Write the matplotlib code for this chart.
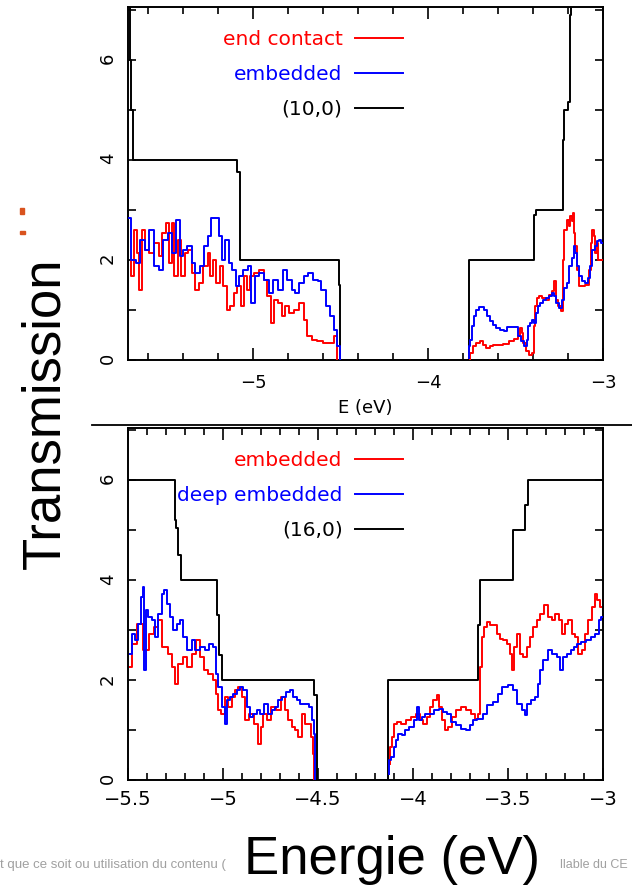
import matplotlib.pyplot as plt
from matplotlib.ticker import MultipleLocator, FuncFormatter
from matplotlib.lines import Line2D
from matplotlib.patches import Rectangle

GAP = float("nan")  # pas de courbe dans le gap

# --- panneau du haut : (10,0) ---
top_tube_x = [-5.72, -5.703, -5.695, -5.685, -5.09, -5.075, -4.51, -4.503, -3.766,
              -3.395, -3.385, -3.23, -3.225, -3.20, -3.19, -3.18, -2.99]
top_tube_y = [7.5, 6.0, 5.0, 4.0, 3.75, 2.0, 1.5, 0.0, 2.0,
              2.9, 3.0, 4.4, 5.0, 5.15, 6.9, 7.5, 7.5]

top_end_x = [-5.70, -5.69, -5.67, -5.66, -5.64, -5.63, -5.61, -5.58, -5.55, -5.53,
             -5.51, -5.49, -5.47, -5.46, -5.44, -5.42, -5.40, -5.38, -5.36, -5.34,
             -5.32, -5.30, -5.27, -5.25, -5.24, -5.22, -5.20, -5.18, -5.16, -5.14,
             -5.12, -5.10, -5.08, -5.06, -5.04, -5.03, -5.01, -4.98, -4.95, -4.93,
             -4.91, -4.89, -4.87, -4.84, -4.83, -4.81, -4.78, -4.75, -4.72, -4.70,
             -4.68, -4.65, -4.62, -4.58, -4.55, -4.53, -4.51, GAP,
             -3.765, -3.751, -3.733, -3.714, -3.695, -3.676, -3.657, -3.638, -3.620, -3.591,
             -3.554, -3.525, -3.497, -3.478, -3.469, -3.459, -3.450, -3.431, -3.412, -3.399,
             -3.394, -3.384, -3.375, -3.356, -3.337, -3.318, -3.299, -3.286, -3.271, -3.262,
             -3.249, -3.234, -3.228, -3.215, -3.202, -3.192, -3.181, -3.173, -3.168, -3.162,
             -3.154, -3.143, -3.136, -3.111, -3.092, -3.073, -3.064, -3.058, -3.049, -3.041,
             -3.030, -3.023, -3.008]
top_end_y = [2.0, 1.67, 2.6, 2.13, 1.4, 2.6, 2.2, 2.13, 2.33, 2.07,
             2.53, 2.73, 1.93, 2.73, 1.67, 2.4, 1.67, 2.13, 2.2, 1.73,
             1.4, 1.53, 1.87, 2.13, 1.67, 2.0, 1.53, 1.87, 1.47, 1.0,
             1.07, 1.33, 1.47, 1.07, 1.67, 1.4, 1.67, 1.73, 1.8, 1.6,
             1.27, 0.73, 1.2, 1.13, 0.87, 1.07, 0.93, 1.0, 1.13, 0.8,
             0.47, 0.4, 0.37, 0.33, 0.33, 0.47, 0.0, GAP,
             0.0, 0.13, 0.27, 0.33, 0.37, 0.3, 0.23, 0.27, 0.3, 0.3,
             0.32, 0.37, 0.41, 0.47, 0.63, 0.53, 0.33, 0.17, 0.1, 0.13,
             0.67, 1.07, 1.23, 1.27, 1.23, 1.2, 1.3, 1.37, 1.57, 1.2,
             1.07, 0.97, 2.0, 2.6, 2.8, 2.67, 2.87, 2.77, 2.93, 2.53,
             2.27, 1.8, 1.47, 1.47, 1.5, 1.8, 2.33, 2.6, 2.47, 2.13,
             2.33, 2.0, 2.0]

top_emb_x = [-5.71, -5.68, -5.66, -5.63, -5.61, -5.58, -5.55, -5.53, -5.50, -5.47,
             -5.46, -5.42, -5.41, -5.39, -5.36, -5.34, -5.32, -5.29, -5.27, -5.25,
             -5.23, -5.20, -5.19, -5.17, -5.15, -5.13, -5.11, -5.09, -5.07, -5.04,
             -5.02, -5.00, -4.98, -4.95, -4.92, -4.90, -4.87, -4.84, -4.82, -4.79,
             -4.77, -4.75, -4.72, -4.70, -4.67, -4.64, -4.62, -4.60, -4.57, -4.55,
             -4.53, -4.51, -4.50, GAP,
             -3.770, -3.765, -3.751, -3.742, -3.733, -3.719, -3.704, -3.686, -3.670, -3.657,
             -3.638, -3.620, -3.601, -3.573, -3.554, -3.544, -3.516, -3.488, -3.478, -3.459,
             -3.441, -3.431, -3.422, -3.412, -3.403, -3.388, -3.380, -3.365, -3.350, -3.337,
             -3.318, -3.299, -3.286, -3.275, -3.262, -3.243, -3.230, -3.215, -3.200, -3.186,
             -3.173, -3.162, -3.154, -3.143, -3.130, -3.111, -3.092, -3.079, -3.068, -3.055,
             -3.041, -3.030, -3.017, -3.008]
top_emb_y = [2.83, 2.0, 1.93, 2.4, 2.2, 2.6, 1.87, 1.8, 2.4, 2.53,
             2.13, 2.8, 2.07, 2.2, 2.27, 1.93, 1.73, 1.87, 2.27, 2.47,
             2.83, 2.83, 2.47, 2.0, 2.4, 1.93, 1.8, 1.47, 1.67, 1.8,
             1.87, 1.13, 1.67, 1.73, 1.6, 1.33, 1.6, 1.4, 1.8, 1.6,
             1.4, 1.33, 1.53, 1.67, 1.73, 1.6, 1.57, 1.4, 1.07, 0.87,
             0.6, 0.27, 0.0, GAP,
             0.03, 0.27, 0.4, 0.67, 0.87, 1.0, 1.05, 1.05, 1.0, 0.87,
             0.77, 0.7, 0.63, 0.6, 0.57, 0.65, 0.65, 0.65, 0.47, 0.37,
             0.27, 0.4, 0.67, 0.73, 0.8, 0.73, 0.93, 1.07, 1.13, 1.2,
             1.23, 1.27, 1.33, 1.27, 1.13, 1.03, 1.2, 1.43, 1.53, 1.87,
             2.03, 2.27, 2.13, 1.87, 1.67, 1.57, 1.53, 1.63, 1.87, 2.2,
             2.27, 2.37, 2.4, 2.33]

# --- panneau du bas : (16,0) ---
bot_tube_x = [-5.51, -5.253, -5.245, -5.235, -5.222, -5.032, -5.020, -5.005, -4.520,
              -4.507, -4.130, -3.656, -3.645, -3.472, -3.411, -3.395, -2.99]
bot_tube_y = [6.0, 5.2, 5.05, 4.5, 4.0, 3.3, 2.5, 2.0, 1.7,
              0.0, 2.0, 3.1, 4.0, 5.0, 5.5, 6.0, 6.0]

bot_emb_x = [-5.489, -5.472, -5.437, -5.402, -5.375, -5.349, -5.332, -5.305, -5.279, -5.261,
             -5.247, -5.226, -5.200, -5.174, -5.153, -5.130, -5.112, -5.089, -5.068, -5.042,
             -5.033, -5.019, -4.998, -4.981, -4.963, -4.946, -4.928, -4.911, -4.893, -4.875,
             -4.849, -4.823, -4.809, -4.796, -4.779, -4.761, -4.735, -4.709, -4.682, -4.665,
             -4.647, -4.630, -4.612, -4.595, -4.577, -4.560, -4.542, -4.528, -4.521, -4.516, GAP,
             -4.125, -4.118, -4.107, -4.095, -4.077, -4.051, -4.025, -3.998, -3.972, -3.954,
             -3.937, -3.919, -3.902, -3.884, -3.867, -3.858, -3.840, -3.823, -3.805, -3.788,
             -3.761, -3.735, -3.709, -3.682, -3.665, -3.651, -3.644, -3.633, -3.621, -3.604,
             -3.586, -3.568, -3.551, -3.533, -3.516, -3.498, -3.481, -3.472, -3.463, -3.446,
             -3.428, -3.411, -3.393, -3.375, -3.358, -3.340, -3.323, -3.300, -3.279, -3.261,
             -3.240, -3.223, -3.209, -3.191, -3.174, -3.156, -3.139, -3.121, -3.104, -3.086,
             -3.068, -3.051, -3.037, -3.025, -3.011]
bot_emb_y = [2.27, 2.73, 3.13, 2.6, 2.93, 3.07, 3.2, 2.67, 2.53, 2.27,
             1.93, 2.33, 2.47, 2.27, 2.53, 2.8, 2.47, 2.2, 2.13, 2.0,
             1.73, 1.4, 1.33, 1.67, 1.47, 1.67, 1.8, 1.87, 1.67, 1.2,
             1.33, 1.13, 0.73, 1.07, 1.33, 1.2, 1.47, 1.4, 1.67, 1.4,
             1.2, 1.07, 1.0, 0.87, 1.33, 1.13, 1.13, 0.87, 0.53, 0.0, GAP,
             0.33, 0.67, 0.87, 1.13, 1.17, 1.13, 1.2, 1.27, 1.33, 1.2,
             1.13, 1.27, 1.47, 1.6, 1.7, 1.47, 1.2, 1.0, 1.07, 1.27,
             1.4, 1.47, 1.4, 1.33, 1.23, 1.33, 2.27, 2.87, 3.07, 3.17,
             3.1, 3.1, 2.93, 2.83, 2.8, 2.73, 2.53, 2.2, 2.67, 2.93,
             2.53, 2.47, 2.67, 2.87, 3.07, 3.2, 3.33, 3.5, 3.27, 3.2,
             3.33, 3.2, 2.93, 3.13, 3.2, 2.93, 2.87, 2.53, 2.6, 2.93,
             3.2, 3.47, 3.73, 3.6, 3.47]

bot_deep_x = [-5.489, -5.472, -5.454, -5.440, -5.428, -5.419, -5.411, -5.402, -5.384, -5.367,
              -5.349, -5.332, -5.314, -5.305, -5.288, -5.270, -5.253, -5.235, -5.218, -5.200,
              -5.174, -5.156, -5.135, -5.112, -5.081, -5.068, -5.042, -5.033, -5.016, -4.998,
              -4.984, -4.972, -4.954, -4.937, -4.919, -4.902, -4.884, -4.867, -4.849, -4.832,
              -4.814, -4.796, -4.770, -4.753, -4.735, -4.718, -4.700, -4.682, -4.656, -4.639,
              -4.621, -4.604, -4.586, -4.560, -4.533, -4.525, -4.519, -4.516, GAP,
              -4.130, -4.121, -4.107, -4.095, -4.086, -4.068, -4.051, -4.033, -4.007, -3.981,
              -3.972, -3.963, -3.946, -3.928, -3.902, -3.875, -3.849, -3.832, -3.814, -3.788,
              -3.761, -3.735, -3.709, -3.691, -3.674, -3.647, -3.621, -3.595, -3.568, -3.542,
              -3.516, -3.489, -3.463, -3.437, -3.419, -3.405, -3.393, -3.367, -3.349, -3.335,
              -3.323, -3.305, -3.279, -3.253, -3.230, -3.218, -3.200, -3.177, -3.160, -3.147,
              -3.125, -3.104, -3.077, -3.051, -3.030, -3.016, -3.007]
bot_deep_y = [2.53, 2.93, 2.8, 3.13, 3.67, 3.87, 2.2, 3.4, 3.27, 3.2,
              2.87, 3.33, 3.73, 3.8, 3.53, 3.27, 3.0, 3.13, 3.2, 2.87,
              2.6, 2.8, 2.6, 2.67, 2.6, 2.73, 2.67, 2.13, 1.87, 1.47,
              1.13, 1.6, 1.67, 1.73, 1.8, 1.87, 1.8, 1.47, 1.27, 1.33,
              1.4, 1.33, 1.53, 1.33, 1.4, 1.47, 1.6, 1.67, 1.77, 1.8,
              1.67, 1.6, 1.53, 1.53, 1.47, 1.2, 0.93, 0.0, GAP,
              0.13, 0.4, 0.47, 0.67, 0.8, 0.93, 0.9, 1.0, 1.07, 1.2,
              1.47, 1.2, 1.27, 1.33, 1.33, 1.4, 1.43, 1.37, 1.33, 1.17,
              1.1, 1.03, 1.0, 1.1, 1.2, 1.23, 1.33, 1.5, 1.57, 1.73,
              1.87, 1.9, 1.8, 1.53, 1.4, 1.3, 1.53, 1.6, 1.67, 1.93,
              2.2, 2.4, 2.6, 2.53, 2.47, 2.2, 2.47, 2.53, 2.6, 2.67,
              2.73, 2.77, 2.8, 2.87, 2.93, 3.2, 3.27]

panels = [
    dict(rect=[0.2025, 0.5937, 0.7516, 0.3984], xlim=(-5.715, -3), ylim=(0, 7.06),
         major=1, minor=0.2, labels=["end contact", "embedded", "(10,0)"],
         red=(top_end_x, top_end_y), blue=(top_emb_x, top_emb_y),
         black=(top_tube_x, top_tube_y), fs=13, pad=10),
    dict(rect=[0.2025, 0.1196, 0.7516, 0.3973], xlim=(-5.5, -3), ylim=(0, 7.04),
         major=0.5, minor=0.1, labels=["embedded", "deep embedded", "(16,0)"],
         red=(bot_emb_x, bot_emb_y), blue=(bot_deep_x, bot_deep_y),
         black=(bot_tube_x, bot_tube_y), fs=14, pad=7),
]

fig = plt.figure(figsize=(6.32, 8.86), dpi=100)

for p in panels:
    ax = fig.add_axes(p["rect"])
    l1, = ax.plot(*p["red"], color="#ff0000", lw=1.4, drawstyle="steps-mid", zorder=3)
    l2, = ax.plot(*p["blue"], color="#0000ff", lw=1.4, drawstyle="steps-mid", zorder=3)
    l3, = ax.plot(*p["black"], color="black", lw=1.4, drawstyle="steps-post", zorder=2)
    ax.set_xlim(*p["xlim"])
    ax.set_ylim(*p["ylim"])
    ax.xaxis.set_major_locator(MultipleLocator(p["major"]))
    ax.xaxis.set_minor_locator(MultipleLocator(p["minor"]))
    ax.xaxis.set_major_formatter(FuncFormatter(lambda v, pos: f"{v:g}".replace("-", "\u2212")))
    ax.yaxis.set_major_locator(MultipleLocator(2))
    ax.yaxis.set_minor_locator(MultipleLocator(1))
    ax.tick_params(which="both", direction="in", top=True, right=True, width=1.2)
    ax.tick_params(axis="x", which="major", length=8.5, labelsize=p["fs"], pad=p["pad"])
    ax.tick_params(axis="x", which="minor", length=5)
    ax.tick_params(axis="y", which="both", length=5.5)
    ax.tick_params(axis="y", labelsize=13, labelrotation=90, pad=8)
    for s in ax.spines.values():
        s.set_linewidth(1.4)
    ax.legend([l1, l2, l3], p["labels"], loc="upper right",
              bbox_to_anchor=(0.579, 0.936), frameon=False, markerfirst=False,
              fontsize=14.5, handlelength=2.4, handletextpad=0.6,
              labelspacing=0.8, borderpad=0, borderaxespad=0,
              labelcolor="linecolor")
    if p["labels"][-1] == "(10,0)":
        ax.set_xlabel("E (eV)", fontsize=13, labelpad=5)

# elements de la diapositive
fig.add_artist(Line2D([92 / 632, 1.0], [1 - 424.5 / 886] * 2, color="black", lw=1.3,
                      transform=fig.transFigure))
fig.add_artist(Rectangle((20 / 632, 1 - 214 / 886), 4 / 632, 6 / 886, color="#d9531e",
                         transform=fig.transFigure))
fig.add_artist(Rectangle((20 / 632, 1 - 234 / 886), 5 / 632, 3 / 886, color="#d9531e",
                         transform=fig.transFigure))

fig.text(45 / 632, 1 - 413 / 886, "Transmission", rotation=90, ha="center", va="center",
         fontsize=38, family="Liberation Sans")
fig.text(392 / 632, 12 / 886, "Energie (eV)", ha="center", va="baseline",
         fontsize=38, family="Liberation Sans")

fig.text(0.0, 18 / 886, "t que ce soit ou utilisation du contenu (", fontsize=9.5,
         color="#a0a0a0", family="Liberation Sans", va="baseline")
fig.text(560 / 632, 18 / 886, "llable du CE", fontsize=9,
         color="#a0a0a0", family="Liberation Sans", va="baseline")

fig.savefig("out.png", dpi=100)
